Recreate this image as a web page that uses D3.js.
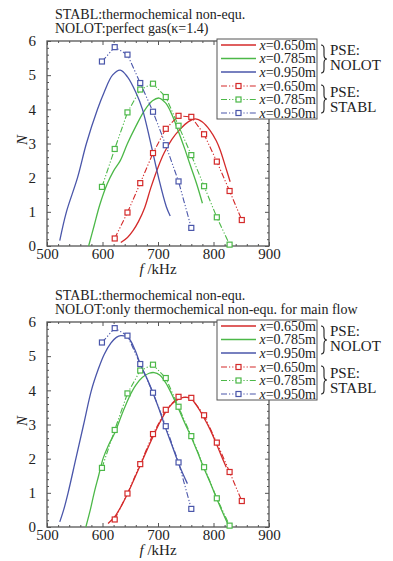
<!DOCTYPE html>
<html><head><meta charset="utf-8">
<script src="https://cdn.jsdelivr.net/npm/d3@7"></script>
<style>
body{margin:0;background:#fff;}
svg text{font-family:"Liberation Serif","Times New Roman",serif;fill:#222;}
</style></head>
<body><svg id="c" width="393" height="561"></svg>
<script>
// ---------- DATA ----------
const xTicks = [500, 600, 700, 800, 900];
const yTicks = [0, 1, 2, 3, 4, 5, 6];
const legendLabels = ["0.650m", "0.785m", "0.950m"];
const titlesTop = ["STABL:thermochemical non-equ.", "NOLOT:perfect gas(κ=1.4)"];
const titlesBottom = ["STABL:thermochemical non-equ.", "NOLOT:only thermochemical non-equ. for main flow"];

// PSE STABL (same in both panels)
const stablRedF = [622, 645, 668, 691, 714, 737, 760, 783, 806, 829, 851];
const stablRedN = [0.22, 0.98, 1.84, 2.72, 3.43, 3.81, 3.78, 3.27, 2.47, 1.61, 0.76];
const stablGreenF = [599, 622, 645, 668, 691, 714, 737, 760, 783, 806, 829];
const stablGreenN = [1.73, 2.84, 3.91, 4.58, 4.75, 4.36, 3.52, 2.66, 1.75, 0.84, 0.04];
const stablBlueF = [599, 622, 645, 668, 691, 714, 737, 760];
const stablBlueN = [5.40, 5.82, 5.60, 4.77, 3.93, 2.95, 1.89, 0.53];

// PSE NOLOT, perfect gas (top)
const topRedF = [633, 645, 655, 665, 676, 687, 700, 711, 725, 740, 755, 767, 780, 794, 805, 812, 822, 830];
const topRedN = [0.10, 0.25, 0.45, 0.72, 1.12, 1.70, 2.30, 2.72, 3.12, 3.42, 3.64, 3.72, 3.63, 3.38, 3.08, 2.81, 2.30, 1.88];
const topGreenF = [575, 585, 595, 608, 620, 632, 645, 660, 675, 690, 702, 714, 725, 738, 748, 758, 770, 780];
const topGreenN = [0.00, 0.60, 1.20, 1.80, 2.20, 2.50, 3.00, 3.50, 3.95, 4.25, 4.33, 4.18, 3.85, 3.30, 2.85, 2.37, 1.80, 1.25];
const topBlueF = [523, 535, 555, 571, 591, 603, 618, 632, 645, 660, 672, 687, 701, 715, 722];
const topBlueN = [0.16, 1.00, 2.00, 3.00, 4.00, 4.50, 5.00, 5.15, 4.95, 4.50, 4.00, 3.00, 2.00, 1.15, 0.88];

// PSE NOLOT, only thermochemical non-equ. for main flow (bottom)
const botRedF = [610, 622, 634, 646, 657, 669, 680, 692, 703, 714, 725, 737, 750, 760, 771, 782, 794, 805, 815, 823];
const botRedN = [0.10, 0.30, 0.62, 1.00, 1.40, 1.84, 2.25, 2.68, 3.05, 3.37, 3.60, 3.74, 3.80, 3.75, 3.52, 3.22, 2.85, 2.44, 2.05, 1.75];
const botGreenF = [570, 578, 585, 593, 601, 611, 622, 635, 648, 660, 672, 684, 693, 703, 714, 725, 737, 748, 760, 771, 782, 794, 805, 815, 826];
const botGreenN = [0.00, 0.50, 1.00, 1.50, 2.00, 2.40, 2.75, 3.30, 3.80, 4.15, 4.38, 4.50, 4.52, 4.45, 4.22, 3.88, 3.46, 3.05, 2.63, 2.20, 1.75, 1.30, 0.86, 0.48, 0.08];
const botBlueF = [523, 530, 538, 552, 566, 580, 592, 603, 615, 625, 633, 646, 658, 669, 680, 692, 703, 714, 725, 735, 745, 753];
const botBlueN = [0.15, 0.50, 1.00, 2.00, 3.00, 4.00, 4.60, 5.05, 5.38, 5.55, 5.60, 5.55, 5.20, 4.73, 4.35, 3.88, 3.40, 2.88, 2.40, 1.95, 1.55, 1.27];

// ---------- STYLE ----------
const COLORS = ["#d42a2a", "#4cb848", "#4a56aa"];
const DASH = "6,2,1.2,2,1.2,2";
const svg = d3.select("#c");
const zip = (f, n) => f.map((v, i) => [v, n[i]]);

function panel(offY, titles, solids) {
  const L = 47, R = 269, T = 41 + offY, B = 246 + offY;
  const x = d3.scaleLinear().domain([500, 900]).range([L, R]);
  const y = d3.scaleLinear().domain([0, 6]).range([B, T]);
  const g = svg.append("g");

  // titles
  titles.forEach((t, i) => g.append("text").attr("x", 55).attr("y", 19 + offY + i * 14)
    .attr("font-size", 14).text(t));

  // minor ticks
  const xMinor = d3.range(500, 901, 20).filter(v => v % 100 !== 0);
  const yMinor = d3.range(0, 6.01, 0.2).filter(v => Math.abs(v - Math.round(v)) > 0.01);
  const ax = (gen, tr) => g.append("g").attr("transform", tr).call(gen)
    .call(s => s.select(".domain").remove())
    .call(s => s.selectAll("line").attr("stroke", "#555"));
  ax(d3.axisBottom(x).tickValues(xMinor).tickSize(-2).tickFormat(""), `translate(0,${B})`);
  ax(d3.axisTop(x).tickValues(xMinor).tickSize(-2).tickFormat(""), `translate(0,${T})`);
  ax(d3.axisLeft(y).tickValues(yMinor).tickSize(-2).tickFormat(""), `translate(${L},0)`);
  ax(d3.axisRight(y).tickValues(yMinor).tickSize(-2).tickFormat(""), `translate(${R},0)`);
  ax(d3.axisTop(x).tickValues(xTicks).tickSize(-4).tickFormat(""), `translate(0,${T})`);
  ax(d3.axisRight(y).tickValues(yTicks).tickSize(-4).tickFormat(""), `translate(${R},0)`);
  const xa = ax(d3.axisBottom(x).tickValues(xTicks).tickSize(-4).tickPadding(2).tickFormat(d3.format("d")), `translate(0,${B})`);
  xa.selectAll("text").attr("font-size", 15);
  const ya = ax(d3.axisLeft(y).tickValues(yTicks).tickSize(-4).tickPadding(11).tickFormat(d3.format("d")), `translate(${L},0)`);
  ya.selectAll("text").attr("font-size", 15);

  // frame
  g.append("rect").attr("x", L).attr("y", T).attr("width", R - L).attr("height", B - T)
    .attr("fill", "none").attr("stroke", "#555").attr("stroke-width", 1.3);

  // axis labels
  const xl = g.append("text").attr("x", 158).attr("y", 274 + offY).attr("text-anchor", "middle").attr("font-size", 15);
  xl.append("tspan").attr("font-style", "italic").text("f");
  xl.append("tspan").text(" /kHz");
  g.append("text").attr("transform", `translate(27,${140 + offY}) rotate(-90)`).attr("text-anchor", "middle")
    .attr("font-size", 15).attr("font-style", "italic").text("N");

  const line = d3.line().x(d => x(d[0])).y(d => y(d[1]));
  const smooth = d3.line().x(d => x(d[0])).y(d => y(d[1])).curve(d3.curveCatmullRom.alpha(0.5));

  // NOLOT solid curves
  solids.forEach((s, i) => g.append("path").datum(s).attr("d", smooth).attr("fill", "none")
    .attr("stroke", COLORS[i]).attr("stroke-width", 1.3));

  // STABL dash-dot with squares
  const stabl = [zip(stablRedF, stablRedN), zip(stablGreenF, stablGreenN), zip(stablBlueF, stablBlueN)];
  stabl.forEach((s, i) => {
    g.append("path").datum(s).attr("d", line).attr("fill", "none")
      .attr("stroke", COLORS[i]).attr("stroke-width", 1.1).attr("stroke-dasharray", DASH);
    g.selectAll(null).data(s).enter().append("rect")
      .attr("x", d => x(d[0]) - 2.5).attr("y", d => y(d[1]) - 2.5).attr("width", 5).attr("height", 5)
      .attr("fill", "#fff").attr("stroke", COLORS[i]).attr("stroke-width", 1.2);
  });

  // legend
  const lg = g.append("g");
  lg.append("rect").attr("x", 217).attr("y", 39 + offY).attr("width", 100).attr("height", 80)
    .attr("fill", "#fff").attr("stroke", "#555").attr("stroke-width", 1);
  const rowY = [45, 58.5, 72, 86, 99.5, 113];
  for (let k = 0; k < 6; k++) {
    const ci = k % 3, yy = rowY[k] + offY;
    const ln = lg.append("line").attr("x1", 221).attr("x2", 256).attr("y1", yy).attr("y2", yy)
      .attr("stroke", COLORS[ci]).attr("stroke-width", k < 3 ? 1.4 : 1.1);
    if (k >= 3) {
      ln.attr("stroke-dasharray", DASH);
      lg.append("rect").attr("x", 236).attr("y", yy - 2.5).attr("width", 5).attr("height", 5)
        .attr("fill", "#fff").attr("stroke", COLORS[ci]).attr("stroke-width", 1.2);
    }
    const t = lg.append("text").attr("x", 316).attr("y", yy + 4.5).attr("text-anchor", "end").attr("font-size", 14);
    t.append("tspan").attr("font-style", "italic").text("x");
    t.append("tspan").text("=" + legendLabels[ci]);
  }
  const brace = (bx, y1, y2, w) => {
    const m = (y1 + y2) / 2, h = w / 2;
    return `M${bx},${y1} Q${bx + h},${y1} ${bx + h},${y1 + 4} L${bx + h},${m - 4} Q${bx + h},${m} ${bx + w},${m}` +
      ` Q${bx + h},${m} ${bx + h},${m + 4} L${bx + h},${y2 - 4} Q${bx + h},${y2} ${bx},${y2}`;
  };
  [[45, 73, "NOLOT", 55, 70], [85, 113, "STABL", 97, 112]].forEach(([a, b, name, t1, t2]) => {
    lg.append("path").attr("d", brace(321, a + offY, b + offY, 6)).attr("fill", "none").attr("stroke", "#222").attr("stroke-width", 1.1);
    lg.append("text").attr("x", 330).attr("y", t1 + offY).attr("font-size", 15).text("PSE:");
    lg.append("text").attr("x", 330).attr("y", t2 + offY).attr("font-size", 15).text(name);
  });
}

panel(0, titlesTop, [zip(topRedF, topRedN), zip(topGreenF, topGreenN), zip(topBlueF, topBlueN)]);
panel(281, titlesBottom, [zip(botRedF, botRedN), zip(botGreenF, botGreenN), zip(botBlueF, botBlueN)]);
</script></body></html>
